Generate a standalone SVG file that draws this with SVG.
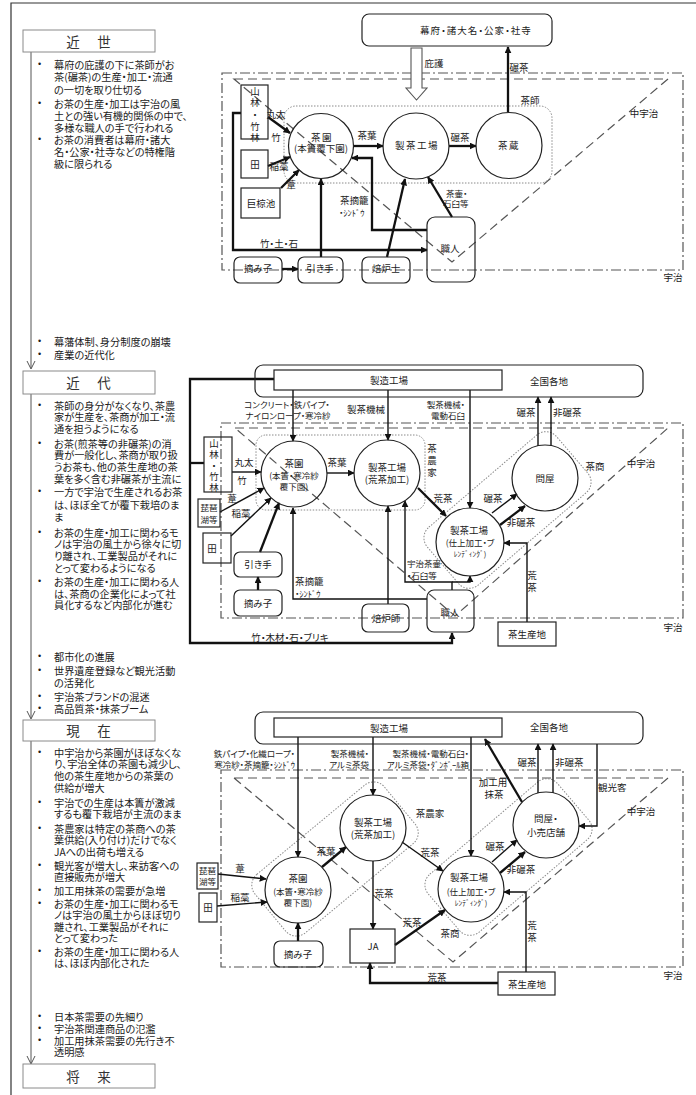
<svg xmlns="http://www.w3.org/2000/svg" width="696" height="1095" viewBox="0 0 696 1095">
<style>
text{font-family:"Noto Sans CJK JP","Liberation Sans",sans-serif;fill:#1a1a1a;dominant-baseline:central;font-feature-settings:"palt"}
.p{font-size:10.2px}
.b{font-family:"Liberation Sans",sans-serif;font-size:9px}
.h{font-size:13.5px;text-anchor:middle;fill:#333}
.l{font-size:9.5px;text-anchor:middle}
.ls{font-size:9.5px;text-anchor:start}
.le{font-size:9.5px;text-anchor:end}
.s{font-size:8.5px}
.w{letter-spacing:1.5px}
.tb{fill:#fff;stroke:#8a8a8a;stroke-width:1}
.nd{fill:none;stroke:#222;stroke-width:1.2}
.uji{fill:none;stroke:#555;stroke-width:1.2;stroke-dasharray:10 3 2 3}
.tri{fill:none;stroke:#555;stroke-width:1.2;stroke-dasharray:9 5}
.grp{fill:none;stroke:#8a8a8a;stroke-width:1;stroke-dasharray:1.5 1.5}
.c{fill:none;stroke:#111;stroke-width:1.4;marker-end:url(#ah)}
.k{stroke-width:2.3}
.c0{fill:none;stroke:#111;stroke-width:2.3}
.tl{fill:none;stroke:#555;stroke-width:1}
</style>
<defs>
<marker id="ah" viewBox="0 0 10 10" refX="9" refY="5" markerWidth="7" markerHeight="7" markerUnits="userSpaceOnUse" orient="auto"><path d="M0,0 L10,5 L0,10 z" fill="#111"/></marker>
</defs>

<path d="M11,1095 V3 H696" fill="none" stroke="#333" stroke-width="1.2"/>

<g id="timeline">
<path class="tl" d="M31,52 V368 M27,361 L31,369 L35,361"/>
<path class="tl" d="M31,394 V718 M27,711 L31,719 L35,711"/>
<path class="tl" d="M31,741 V1063 M27,1056 L31,1064 L35,1056"/>
</g>
<g id="era-kinsei"><rect class="tb" x="23" y="30" width="132" height="22"/><text class="h" x="73" y="41">近</text><text class="h" x="104" y="41">世</text></g>
<g id="era-kindai"><rect class="tb" x="23" y="371" width="132" height="23"/><text class="h" x="73" y="382">近</text><text class="h" x="104" y="382">代</text></g>
<g id="era-genzai"><rect class="tb" x="23" y="720" width="132" height="21"/><text class="h" x="73" y="730">現</text><text class="h" x="104" y="730">在</text></g>
<g id="era-shorai"><rect class="tb" x="23" y="1064" width="132" height="24"/><text class="h" x="73" y="1076">将</text><text class="h" x="104" y="1076">来</text></g>

<g id="notes-kinsei">
<text class="b" x="38" y="64">•</text><text class="p" x="54" y="64">幕府の庇護の下に茶師がお</text>
<text class="p" x="54" y="76.5">茶(碾茶)の生産・加工・流通</text>
<text class="p" x="54" y="89">の一切を取り仕切る</text>
<text class="b" x="38" y="103">•</text><text class="p" x="54" y="103">お茶の生産・加工は宇治の風</text>
<text class="p" x="54" y="115">土との強い有機的関係の中で、</text>
<text class="p" x="54" y="127">多様な職人の手で行われる</text>
<text class="b" x="38" y="139">•</text><text class="p" x="54" y="139">お茶の消費者は幕府・諸大</text>
<text class="p" x="54" y="151">名・公家・社寺などの特権階</text>
<text class="p" x="54" y="163">級に限られる</text>
</g>
<g id="notes-to-kindai">
<text class="b" x="38" y="341">•</text><text class="p" x="54" y="341">幕藩体制、身分制度の崩壊</text>
<text class="b" x="38" y="354">•</text><text class="p" x="54" y="354">産業の近代化</text>
</g>
<g id="notes-kindai">
<text class="b" x="38" y="405">•</text><text class="p" x="54" y="405">茶師の身分がなくなり、茶農</text>
<text class="p" x="54" y="416.5">家が生産を、茶商が加工・流</text>
<text class="p" x="54" y="428">通を担うようになる</text>
<text class="b" x="38" y="443">•</text><text class="p" x="54" y="443">お茶(煎茶等の非碾茶)の消</text>
<text class="p" x="54" y="454.5">費が一般化し、茶商が取り扱</text>
<text class="p" x="54" y="466">うお茶も、他の茶生産地の茶</text>
<text class="p" x="54" y="478">葉を多く含む非碾茶が主流に</text>
<text class="b" x="38" y="491">•</text><text class="p" x="54" y="491">一方で宇治で生産されるお茶</text>
<text class="p" x="54" y="504">は、ほぼ全てが覆下栽培のま</text>
<text class="p" x="54" y="516.5">ま</text>
<text class="b" x="38" y="532">•</text><text class="p" x="54" y="532">お茶の生産・加工に関わるモ</text>
<text class="p" x="54" y="543.5">ノは宇治の風土から徐々に切</text>
<text class="p" x="54" y="555">り離され、工業製品がそれに</text>
<text class="p" x="54" y="567">とって変わるようになる</text>
<text class="b" x="38" y="581">•</text><text class="p" x="54" y="581">お茶の生産・加工に関わる人</text>
<text class="p" x="54" y="593">は、茶商の企業化によって社</text>
<text class="p" x="54" y="604.5">員化するなど内部化が進む</text>
</g>
<g id="notes-to-genzai">
<text class="b" x="38" y="656">•</text><text class="p" x="54" y="656">都市化の進展</text>
<text class="b" x="38" y="670">•</text><text class="p" x="54" y="670">世界遺産登録など観光活動</text>
<text class="p" x="54" y="682">の活発化</text>
<text class="b" x="38" y="696">•</text><text class="p" x="54" y="696">宇治茶ブランドの混迷</text>
<text class="b" x="38" y="708">•</text><text class="p" x="54" y="708">高品質茶・抹茶ブーム</text>
</g>
<g id="notes-genzai">
<text class="b" x="38" y="752">•</text><text class="p" x="54" y="752">中宇治から茶園がほぼなくな</text>
<text class="p" x="54" y="763.5">り、宇治全体の茶園も減少し、</text>
<text class="p" x="54" y="775">他の茶生産地からの茶葉の</text>
<text class="p" x="54" y="787">供給が増大</text>
<text class="b" x="38" y="802">•</text><text class="p" x="54" y="802">宇治での生産は本簀が激減</text>
<text class="p" x="54" y="813.5">するも覆下栽培が主流のまま</text>
<text class="b" x="38" y="828">•</text><text class="p" x="54" y="828">茶農家は特定の茶商への茶</text>
<text class="p" x="54" y="839.5">葉供給(入り付け)だけでなく</text>
<text class="p" x="54" y="851">JAへの出荷も増える</text>
<text class="b" x="38" y="865">•</text><text class="p" x="54" y="865">観光客が増大し、来訪客への</text>
<text class="p" x="54" y="876.5">直接販売が増大</text>
<text class="b" x="38" y="890">•</text><text class="p" x="54" y="890">加工用抹茶の需要が急増</text>
<text class="b" x="38" y="903">•</text><text class="p" x="54" y="903">お茶の生産・加工に関わるモ</text>
<text class="p" x="54" y="914.5">ノは宇治の風土からほぼ切り</text>
<text class="p" x="54" y="926">離され、工業製品がそれに</text>
<text class="p" x="54" y="937.5">とって変わった</text>
<text class="b" x="38" y="951">•</text><text class="p" x="54" y="951">お茶の生産・加工に関わる人</text>
<text class="p" x="54" y="962.5">は、ほぼ内部化された</text>
</g>
<g id="notes-to-shorai">
<text class="b" x="38" y="1016">•</text><text class="p" x="54" y="1016">日本茶需要の先細り</text>
<text class="b" x="38" y="1028">•</text><text class="p" x="54" y="1028">宇治茶関連商品の氾濫</text>
<text class="b" x="38" y="1040">•</text><text class="p" x="54" y="1040">加工用抹茶需要の先行き不</text>
<text class="p" x="54" y="1051.5">透明感</text>
</g>

<g id="areas">
<rect class="uji" x="222" y="73" width="461" height="197"/>
<polygon class="tri" points="234,79 668,79 452,262"/>
<rect class="uji" x="221" y="423" width="462" height="195"/>
<polygon class="tri" points="235,428 668,428 455,616"/>
<rect class="uji" x="221" y="770" width="462" height="197"/>
<polygon class="tri" points="234,778 668,778 453,962"/>
<text class="l" x="673" y="277">宇治</text>
<text class="l" x="644" y="113">中宇治</text>
<text class="l" x="673" y="627">宇治</text>
<text class="l" x="641" y="463">中宇治</text>
<text class="l" x="673" y="975">宇治</text>
<text class="l" x="641" y="811">中宇治</text>
</g>

<g id="group-chashi1"><rect class="grp" x="284" y="106" width="268" height="77" rx="12"/><text class="l" x="530" y="100">茶師</text></g>
<g id="group-nouka2"><rect class="grp" x="256" y="435" width="169" height="75" rx="10"/><text class="l" x="432" y="448">茶</text><text class="l" x="432" y="460">農</text><text class="l" x="432" y="472">家</text></g>
<g id="group-shosho2"><rect class="grp" x="-85" y="-38" width="170" height="76" rx="14" transform="translate(507.5,510) rotate(-40.5)"/><text class="l" x="595" y="466">茶商</text></g>
<g id="group-nouka3"><rect class="grp" x="-84" y="-38" width="168" height="76" rx="14" transform="translate(335,859) rotate(-39.6)"/><text class="l" x="430" y="813">茶農家</text></g>
<g id="group-shosho3"><rect class="grp" x="-85" y="-38" width="170" height="76" rx="14" transform="translate(508.5,857) rotate(-40.5)"/><text class="l" x="450" y="933">茶商</text></g>

<g id="connectors">
<g id="edges-kinsei">
<polygon points="411,48 422,48 422,88 427,88 416.5,100 406,88 411,88" fill="#fff" stroke="#555" stroke-width="1.1"/>
<path class="c k" d="M354,146 H383"/>
<path class="c k" d="M449,146 H476"/>
<path class="c k" d="M508,112 V47"/>
<path class="c k" d="M268,117 L290,133"/>
<path class="c k" d="M268,166 L290,157"/>
<path class="c k" d="M281,188 L299,170"/>
<path class="c k" d="M241,113 H233 V250 H427"/>
<path class="c k" d="M282,269 H298"/>
<path class="c k" d="M321,257 V179"/>
<path class="c k" d="M387,257 L405,179"/>
<path class="c k" d="M427,230 H372 V158 H352"/>
<path class="c k" d="M452,217 L428,177"/>
</g>
<g id="edges-kindai">
<path class="c" d="M293,390 V441"/>
<path class="c" d="M388,390 V440"/>
<path class="c" d="M470,390 V508"/>
<path class="c" d="M327,473 H354"/>
<path class="c k" d="M418,488 L446,516"/>
<path class="c" d="M492,513 L517,494"/>
<path class="c k" d="M500,525 L525,506"/>
<path class="c" d="M538,446 V397"/>
<path class="c" d="M551,446 V397"/>
<path class="c" d="M527,622 V543 H504"/>
<path class="c k" d="M274,379 H190 V643 H452 V633"/>
<path class="c0" d="M204,463 H190"/>
<path class="c" d="M232,472 H261"/>
<path class="c" d="M220,512 L264,488"/>
<path class="c" d="M231,536 L271,498"/>
<path class="c k" d="M260,552 L279,503"/>
<path class="c k" d="M258,590 V577"/>
<path class="c" d="M427,599 H293 V508"/>
<path class="c" d="M388,604 V506"/>
<path class="c" d="M452,590 V582 H405 V501"/>
<path class="c" d="M452,582 H470 V576"/>
</g>
<g id="edges-genzai">
<path class="c" d="M298,737 V857"/>
<path class="c" d="M373,737 V795"/>
<path class="c" d="M471,737 V856"/>
<path class="c k" d="M322,867 L346,847"/>
<path class="c" d="M402,842 L443,871"/>
<path class="c" d="M373,861 V929"/>
<path class="c k" d="M395,945 L445,910"/>
<path class="c k" d="M498,983 H370 V963"/>
<path class="c" d="M526,972 V892 H504"/>
<path class="c k" d="M522,802 L485,739"/>
<path class="c" d="M597,744 V826 H579"/>
<path class="c" d="M538,793 V744"/>
<path class="c" d="M553,793 V744"/>
<path class="c" d="M492,862 L517,840"/>
<path class="c k" d="M500,873 L525,852"/>
<path class="c k" d="M298,941 V923"/>
<path class="c" d="M218,874 L266,879"/>
<path class="c" d="M217,906 L267,902"/>
</g>
</g>

<g id="edge-labels">
<text class="l" x="434" y="63">庇護</text>
<text class="l" x="519" y="67">碾茶</text>
<text class="l" x="367" y="135">茶葉</text>
<text class="l" x="460" y="137">碾茶</text>
<text class="l" x="276" y="114">丸太</text>
<text class="l" x="276" y="137">竹</text>
<text class="l" x="279" y="166">稲藁</text>
<text class="l" x="291" y="184">葦</text>
<text class="ls" x="340" y="200">茶摘籠</text>
<text class="ls s" x="339" y="212">・ｼﾝﾄﾞｳ</text>
<text class="ls s" x="446" y="192.5">茶壷・</text>
<text class="ls s" x="443" y="203">石臼等</text>
<text class="l" x="279" y="243">竹・土・石</text>

<text class="l s" x="287" y="404">コンクリート・鉄パイプ・</text>
<text class="l s" x="288" y="415">ナイロンロープ・寒冷紗</text>
<text class="l" x="366" y="409">製茶機械</text>
<text class="le s" x="465" y="404">製茶機械・</text>
<text class="le s" x="465" y="415">電動石臼</text>
<text class="l" x="526" y="412">碾茶</text>
<text class="ls" x="553" y="412">非碾茶</text>
<text class="l" x="337" y="462">茶葉</text>
<text class="l" x="443" y="498">荒茶</text>
<text class="l" x="493" y="498">碾茶</text>
<text class="l" x="521" y="522">非碾茶</text>
<text class="l" x="532" y="575">荒</text>
<text class="l" x="532" y="587">茶</text>
<text class="l" x="244" y="462">丸太</text>
<text class="l" x="242" y="480">竹</text>
<text class="l" x="232" y="498">葦</text>
<text class="l" x="241" y="513">稲藁</text>
<text class="ls" x="295" y="581">茶摘籠</text>
<text class="ls s" x="295" y="593">・ｼﾝﾄﾞｳ</text>
<text class="ls s" x="407" y="563">宇治茶壷</text>
<text class="ls s" x="407" y="575">・石臼等</text>
<text class="l" x="290" y="637">竹・木材・石・ブリキ</text>

<text class="le s" x="295" y="753">鉄パイプ・化繊ロープ・</text>
<text class="le s" x="295" y="764">寒冷紗・茶摘籠・ｼﾝﾄﾞｳ</text>
<text class="le s" x="369" y="753">製茶機械・</text>
<text class="le s" x="369" y="764">アルミ茶袋</text>
<text class="le s" x="469" y="753">製茶機械・電動石臼・</text>
<text class="le s" x="469" y="764">アルミ茶袋・ﾀﾞﾝﾎﾞｰﾙ箱</text>
<text class="l" x="493" y="782">加工用</text>
<text class="l" x="494" y="794">抹茶</text>
<text class="l" x="527" y="762">碾茶</text>
<text class="ls" x="555" y="762">非碾茶</text>
<text class="ls" x="598" y="787">観光客</text>
<text class="l" x="326" y="851">茶葉</text>
<text class="l" x="430" y="852">荒茶</text>
<text class="l" x="495" y="846">碾茶</text>
<text class="l" x="521" y="869">非碾茶</text>
<text class="l" x="384" y="893">荒茶</text>
<text class="l" x="412" y="922">荒茶</text>
<text class="l" x="532" y="925">荒</text>
<text class="l" x="532" y="937">茶</text>
<text class="l" x="437" y="977">荒茶</text>
<text class="l" x="240" y="868">葦</text>
<text class="l" x="240" y="897">稲藁</text>
</g>

<g id="n-bakufu"><rect class="nd" x="362" y="14" width="190" height="32" rx="7"/><text class="l" x="476" y="30" style="letter-spacing:1px">幕府・諸大名・公家・社寺</text></g>
<g id="n-chaen1"><circle class="nd" cx="321" cy="146" r="32.5"/><text class="l w" x="322" y="137">茶園</text><text class="l" x="321" y="148">(本簀覆下園)</text></g>
<g id="n-seicha1"><circle class="nd" cx="416" cy="146" r="33"/><text class="l w" x="417" y="145">製茶工場</text></g>
<g id="n-chagura1"><circle class="nd" cx="509" cy="145.5" r="33"/><text class="l w" x="509" y="145">茶蔵</text></g>
<g id="n-sanrin1"><rect class="nd" x="241" y="85" width="27" height="54"/><text class="l" x="255" y="91">山</text><text class="l" x="255" y="102">林</text><text class="l" x="255" y="114">・</text><text class="l" x="255" y="126">竹</text><text class="l" x="255" y="137">林</text></g>
<g id="n-ta1"><rect class="nd" x="241" y="150" width="27" height="28"/><text class="l" x="255" y="164">田</text></g>
<g id="n-ogura1"><rect class="nd" x="241" y="188" width="39" height="30"/><text class="l" x="261" y="203">巨椋池</text></g>
<g id="n-shokunin1"><rect class="nd" x="427" y="217" width="48" height="65" rx="8"/><text class="l" x="450" y="248">職人</text></g>
<g id="n-tsumiko1"><rect class="nd" x="234" y="257" width="48" height="26" rx="6"/><text class="l" x="258" y="268">摘み子</text></g>
<g id="n-hikite1"><rect class="nd" x="298" y="257" width="45" height="26" rx="6"/><text class="l" x="320" y="268">引き手</text></g>
<g id="n-hoiroshi1"><rect class="nd" x="362" y="257" width="48" height="26" rx="6"/><text class="l" x="386" y="268">焙炉士</text></g>

<g id="n-zenkoku2"><rect class="nd" x="255" y="365" width="388" height="32" rx="8"/><text class="l" x="549" y="381">全国各地</text></g>
<g id="n-seizo2"><rect class="nd" x="274" y="370" width="228" height="20"/><text class="l" x="389" y="380">製造工場</text></g>
<g id="n-sanrin2"><rect class="nd" x="204" y="437" width="28" height="55"/><text class="l" x="214" y="443">山</text><text class="l" x="214" y="454">林</text><text class="l" x="214" y="465">・</text><text class="l" x="214" y="476">竹</text><text class="l" x="214" y="487">林</text></g>
<g id="n-biwa2"><rect class="nd" x="198" y="499" width="22" height="28"/><text class="l s" x="209" y="507">琵琶</text><text class="l s" x="209" y="519">湖等</text></g>
<g id="n-ta2"><rect class="nd" x="203" y="533" width="28" height="30"/><text class="l" x="212" y="548">田</text></g>
<g id="n-chaen2"><circle class="nd" cx="294" cy="474" r="33"/><text class="l" x="294" y="463">茶園</text><text class="l s" x="294" y="475">(本簀・寒冷紗</text><text class="l s" x="294" y="486">覆下園)</text></g>
<g id="n-aracha2"><circle class="nd" cx="387" cy="473" r="33"/><text class="l" x="387" y="467">製茶工場</text><text class="l" x="387" y="479">(荒茶加工)</text></g>
<g id="n-shiage2"><circle class="nd" cx="470" cy="542" r="34"/><text class="l" x="469" y="530">製茶工場</text><text class="l s" x="470" y="542">(仕上加工・ブ</text><text class="l" x="470" y="553" style="font-size:7.5px">ﾚﾝﾃﾞｨﾝｸﾞ)</text></g>
<g id="n-tonya2"><circle class="nd" cx="545" cy="478" r="33"/><text class="l" x="545" y="478">問屋</text></g>
<g id="n-shokunin2"><rect class="nd" x="427" y="590" width="47" height="42" rx="7"/><text class="l" x="450" y="612">職人</text></g>
<g id="n-hikite2"><rect class="nd" x="234" y="552" width="48" height="25" rx="6"/><text class="l" x="258" y="564">引き手</text></g>
<g id="n-tsumiko2"><rect class="nd" x="234" y="590" width="48" height="26" rx="6"/><text class="l" x="258" y="603">摘み子</text></g>
<g id="n-hoiroshi2"><rect class="nd" x="362" y="604" width="47" height="28" rx="6"/><text class="l" x="386" y="618">焙炉師</text></g>
<g id="n-sanchi2"><rect class="nd" x="498" y="622" width="58" height="24"/><text class="l" x="527" y="634">茶生産地</text></g>

<g id="n-zenkoku3"><rect class="nd" x="255" y="712" width="388" height="32" rx="8"/><text class="l" x="549" y="727">全国各地</text></g>
<g id="n-seizo3"><rect class="nd" x="274" y="718" width="228" height="19"/><text class="l" x="389" y="728">製造工場</text></g>
<g id="n-biwa3"><rect class="nd" x="197" y="863" width="21" height="26"/><text class="l s" x="207.5" y="870">琵琶</text><text class="l s" x="207.5" y="881">湖等</text></g>
<g id="n-ta3"><rect class="nd" x="199" y="893" width="18" height="29"/><text class="l" x="208" y="907">田</text></g>
<g id="n-chaen3"><circle class="nd" cx="298" cy="890" r="33"/><text class="l" x="298" y="878">茶園</text><text class="l s" x="298" y="891">(本簀・寒冷紗</text><text class="l s" x="298" y="902">覆下園)</text></g>
<g id="n-aracha3"><circle class="nd" cx="373" cy="828" r="33"/><text class="l" x="373" y="822">製茶工場</text><text class="l" x="373" y="834">(荒茶加工)</text></g>
<g id="n-shiage3"><circle class="nd" cx="471" cy="889" r="33"/><text class="l" x="469" y="877">製茶工場</text><text class="l s" x="471" y="891">(仕上加工・ブ</text><text class="l" x="471" y="902" style="font-size:7.5px">ﾚﾝﾃﾞｨﾝｸﾞ)</text></g>
<g id="n-tonya3"><circle class="nd" cx="546" cy="825" r="33"/><text class="l" x="546" y="818">問屋・</text><text class="l" x="546" y="832">小売店舗</text></g>
<g id="n-ja3"><rect class="nd" x="350" y="929" width="45" height="34"/><text class="l" x="373" y="946">JA</text></g>
<g id="n-tsumiko3"><rect class="nd" x="274" y="941" width="49" height="26" rx="6"/><text class="l" x="298" y="954">摘み子</text></g>
<g id="n-sanchi3"><rect class="nd" x="498" y="972" width="57" height="23"/><text class="l" x="527" y="984">茶生産地</text></g>
</svg>
